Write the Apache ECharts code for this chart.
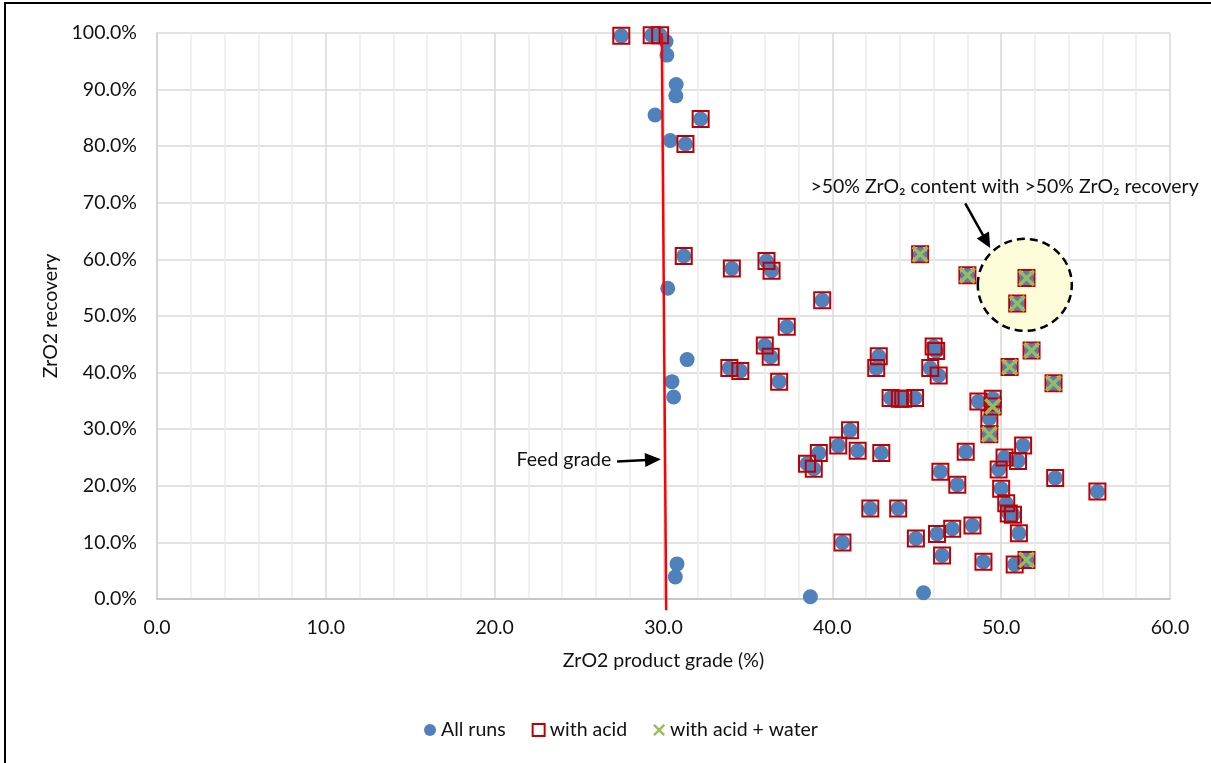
<!DOCTYPE html>
<html>
<head>
<meta charset="utf-8">
<script src="https://cdn.jsdelivr.net/npm/echarts@6/dist/echarts.min.js"></script>
<style>
  html, body { margin: 0; background: #fff; }
  #chart { width: 1211px; height: 763px; }
</style>
</head>
<body>
<div id="chart"></div>
<script>
// runs with no acid marker (circle only)
const plainRuns = [
  [30.15, 98.5], [30.2, 96.1], [30.75, 90.9], [30.73, 88.9], [29.5, 85.5], [30.4, 81.0],
  [30.25, 54.9], [31.4, 42.3], [30.5, 38.4], [30.6, 35.7], [30.8, 6.2], [30.7, 3.9],
  [38.7, 0.4], [45.4, 1.1]
];

// runs with acid
const acidRuns = [
  [27.5, 99.5], [29.3, 99.6], [29.8, 99.6], [32.2, 84.8], [31.3, 80.4], [31.2, 60.6],
  [34.05, 58.4], [36.1, 59.7], [36.4, 58.0], [39.4, 52.8], [37.3, 48.1], [36.0, 44.8],
  [36.35, 42.8], [33.9, 40.8], [34.55, 40.3], [36.85, 38.4], [42.75, 42.9], [42.6, 40.8],
  [46.0, 44.6], [46.15, 43.8], [45.8, 40.8], [46.3, 39.5], [43.45, 35.5], [44.0, 35.4],
  [44.2, 35.4], [44.9, 35.5], [48.65, 34.9], [49.5, 35.4], [49.3, 31.9], [41.05, 29.8],
  [40.35, 27.1], [41.5, 26.2], [42.9, 25.8], [39.2, 25.8], [38.5, 23.9], [38.9, 23.0],
  [47.9, 26.0], [46.4, 22.5], [50.2, 25.0], [51.0, 24.4], [51.3, 27.1], [49.85, 22.9],
  [53.2, 21.4], [47.4, 20.2], [55.7, 19.0], [50.0, 19.5], [50.3, 16.9], [50.45, 15.1],
  [50.7, 14.9], [51.05, 11.6], [50.8, 6.1], [48.95, 6.6], [46.5, 7.7], [48.3, 13.0],
  [47.1, 12.4], [46.2, 11.5], [44.95, 10.7], [43.9, 16.0], [42.25, 16.0], [40.6, 10.0]
];

// runs with acid + water
const acidWaterRuns = [
  [45.2, 60.9], [48.0, 57.2], [51.5, 56.7], [50.95, 52.2], [51.8, 43.9], [50.5, 41.0],
  [53.1, 38.1], [49.5, 34.0], [49.3, 29.1], [51.5, 6.9]
];

// feed grade line end points
const feedLine = [[29.9, 100], [30.16, -2]];

// annotation anchors (data coords)
const zoneCenter = [51.4, 55.5];
const zoneLabelAt = [38.7, 72.8];
const zoneArrow = [[47.87, 69.9], [49.35, 62.0]];
const feedLabelAt = [21.3, 24.6];
const feedArrow = [[27.25, 24.3], [29.85, 24.7]];

const allRuns = [...plainRuns, ...acidRuns, ...acidWaterRuns];
const acidAll = [...acidRuns, ...acidWaterRuns];

const FONT = 'Lato, "DejaVu Sans", sans-serif';
const FS = 19.5;
const xMark = 'path://M0,1.4L1.4,0L5,3.6L8.6,0L10,1.4L6.4,5L10,8.6L8.6,10L5,6.4L1.4,10L0,8.6L3.6,5Z';

const chart = echarts.init(document.getElementById('chart'), null, { renderer: 'canvas' });

chart.setOption({
  animation: false,
  backgroundColor: '#fff',
  textStyle: { fontFamily: FONT },
  grid: { left: 157, right: 41, top: 33, bottom: 164 },
  legend: {
    left: 419,
    top: 715,
    itemWidth: 12,
    itemHeight: 12,
    itemGap: 26,
    textStyle: { fontSize: FS, color: '#111', fontFamily: FONT },
    data: [
      { name: 'All runs', icon: 'circle' },
      { name: 'with acid', icon: 'rect' },
      { name: 'with acid + water', icon: xMark }
    ]
  },
  xAxis: {
    type: 'value',
    min: 0,
    max: 60,
    interval: 10,
    name: 'ZrO2 product grade (%)',
    nameLocation: 'middle',
    nameGap: 52,
    nameTextStyle: { fontSize: FS, color: '#111', fontFamily: FONT },
    axisLine: { show: true, lineStyle: { color: '#bfbfbf', width: 1.5 } },
    axisTick: { show: false },
    axisLabel: { fontSize: FS, color: '#111', margin: 19, formatter: v => v.toFixed(1) },
    splitLine: { show: true, lineStyle: { color: '#d9d9d9', width: 1.5 } },
    minorTick: { show: false, splitNumber: 5 },
    minorSplitLine: { show: true, lineStyle: { color: '#ececec', width: 1.5 } }
  },
  yAxis: {
    type: 'value',
    min: 0,
    max: 100,
    interval: 10,
    name: 'ZrO2 recovery',
    nameLocation: 'middle',
    nameGap: 94,
    nameTextStyle: { fontSize: FS, color: '#111', fontFamily: FONT },
    axisLine: { show: true, lineStyle: { color: '#d0d0d0', width: 1.5 } },
    axisTick: { show: false },
    axisLabel: { fontSize: FS, color: '#111', margin: 20, formatter: v => v.toFixed(1) + '%' },
    splitLine: { show: true, lineStyle: { color: '#d9d9d9', width: 1.5 } }
  },
  series: [
    {
      name: 'All runs',
      type: 'scatter',
      symbol: 'circle',
      symbolSize: 15,
      z: 3,
      itemStyle: { color: '#4f81bd', opacity: 1 },
      data: allRuns
    },
    {
      name: 'with acid',
      type: 'scatter',
      symbol: 'rect',
      symbolSize: 16,
      z: 4,
      itemStyle: { color: 'rgba(255,255,255,0)', borderColor: '#c00000', borderWidth: 2, opacity: 1 },
      data: acidAll
    },
    {
      name: 'with acid + water',
      type: 'scatter',
      symbol: xMark,
      symbolSize: 17,
      z: 5,
      itemStyle: { color: '#9bbb59', opacity: 1 },
      data: acidWaterRuns
    },
    {
      name: 'Feed grade',
      type: 'line',
      clip: false,
      symbol: 'none',
      z: 6,
      lineStyle: { color: '#ff0000', width: 2.5 },
      data: feedLine
    }
  ]
});

function toPx(p) {
  return chart.convertToPixel({ gridIndex: 0 }, p);
}

function arrow(from, to, headLen, headHalf) {
  const a = toPx(from);
  const b = toPx(to);
  const dx = b[0] - a[0];
  const dy = b[1] - a[1];
  const len = Math.hypot(dx, dy);
  const ux = dx / len, uy = dy / len;
  const bx = b[0] - ux * headLen, by = b[1] - uy * headLen;
  return [
    {
      type: 'line', z: 50,
      shape: { x1: a[0], y1: a[1], x2: bx + ux * 2, y2: by + uy * 2 },
      style: { stroke: '#000', lineWidth: 2.5 }
    },
    {
      type: 'polygon', z: 50,
      shape: { points: [b, [bx - uy * headHalf, by + ux * headHalf], [bx + uy * headHalf, by - ux * headHalf]] },
      style: { fill: '#000' }
    }
  ];
}

const c = toPx(zoneCenter);
const zl = toPx(zoneLabelAt);
const fl = toPx(feedLabelAt);

chart.setOption({
  graphic: [
    // frame edges of the chart box
    { type: 'line', shape: { x1: 4, y1: 3, x2: 1211, y2: 3 }, style: { stroke: '#000', lineWidth: 2 } },
    { type: 'line', shape: { x1: 5, y1: 3, x2: 5, y2: 763 }, style: { stroke: '#000', lineWidth: 2 } },
    {
      type: 'ellipse', z: 1,
      shape: { cx: c[0], cy: c[1], rx: 47, ry: 46 },
      style: { fill: '#fdfdd9', stroke: '#000', lineWidth: 2.5, lineDash: [8, 5] }
    },
    {
      type: 'text', z: 50,
      x: zl[0], y: zl[1],
      style: {
        text: '>50% ZrO\u2082 content with >50% ZrO\u2082 recovery',
        font: FS + 'px ' + FONT, fill: '#111', textAlign: 'left', textVerticalAlign: 'middle'
      }
    },
    {
      type: 'text', z: 50,
      x: fl[0], y: fl[1],
      style: {
        text: 'Feed grade',
        font: FS + 'px ' + FONT, fill: '#111', textAlign: 'left', textVerticalAlign: 'middle'
      }
    },
    ...arrow(zoneArrow[0], zoneArrow[1], 15, 7),
    ...arrow(feedArrow[0], feedArrow[1], 16, 7)
  ]
});
</script>
</body>
</html>
